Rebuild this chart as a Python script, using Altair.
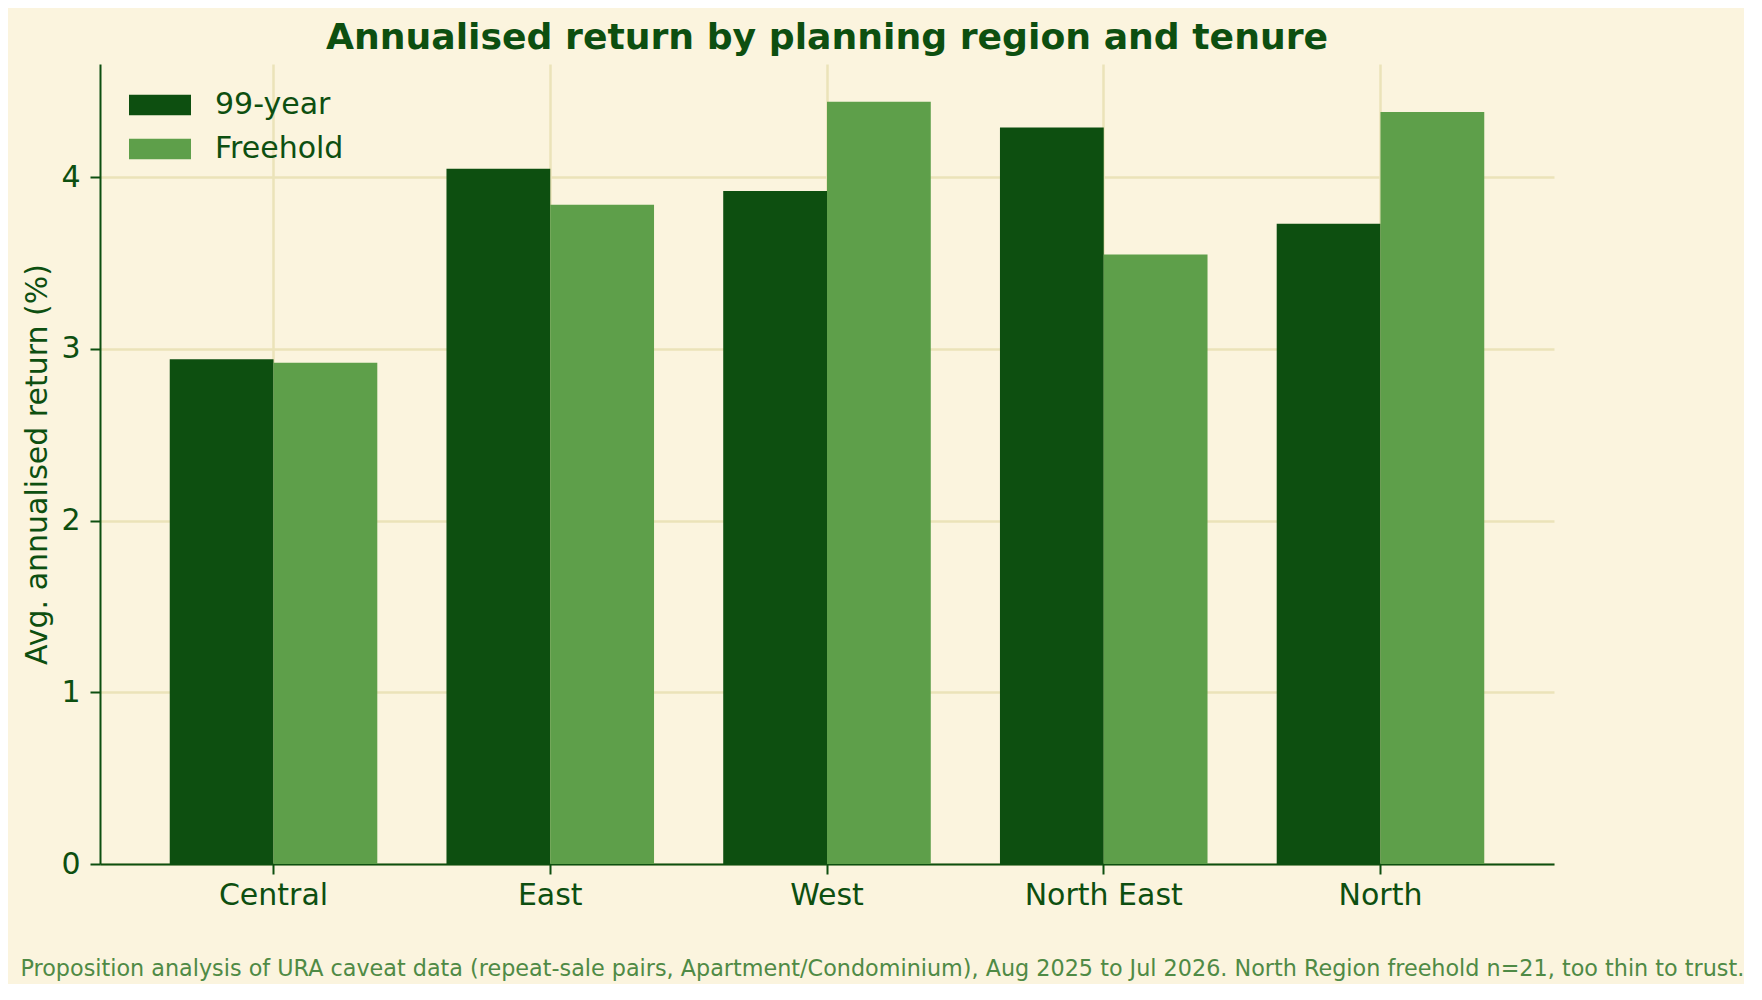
import altair as alt
import pandas as pd

regions = ["Central", "East", "West", "North East", "North"]
tenures = ["99-year", "Freehold"]
ret_99 = [2.94, 4.05, 3.92, 4.29, 3.73]
ret_fh = [2.92, 3.84, 4.44, 3.55, 4.38]
y_ticks = [0, 1, 2, 3, 4]

title = "Annualised return by planning region and tenure"
y_title = "Avg. annualised return (%)"
footer = ("Proposition analysis of URA caveat data (repeat-sale pairs, Apartment/Condominium), "
          "Aug 2025 to Jul 2026. North Region freehold n=21, too thin to trust.")

rows = []
for r, a, b in zip(regions, ret_99, ret_fh):
    rows.append({"region": r, "tenure": tenures[0], "value": a})
    rows.append({"region": r, "tenure": tenures[1], "value": b})
df = pd.DataFrame(rows)

DARK = "#0d4f10"
LIGHT = "#5e9f4a"
BG = "#fbf4de"
GRID = "#ebe3b9"
FOOT = "#4f8a45"
FONT = "DejaVu Sans"

chart = alt.Chart(df).mark_bar().encode(
    x=alt.X(
        "region:N", sort=regions,
        scale=alt.Scale(paddingInner=0.25, paddingOuter=0.252),
        axis=alt.Axis(
            title=footer, labelAngle=0, labelFontSize=30, labelColor=DARK, labelFont=FONT,
            labelPadding=6, tickSize=10, tickWidth=2, tickColor=DARK,
            domainColor=DARK, domainWidth=2, grid=True, gridColor=GRID, gridWidth=2.5,
            bandPosition=0.5,
            titleAnchor="start", titleAlign="left", titleX=-80, titleY=111,
            titleBaseline="alphabetic", titleFontWeight="normal", titleFontSize=22.3,
            titleColor=FOOT, titleFont=FONT,
        ),
    ),
    xOffset=alt.XOffset("tenure:N", sort=tenures, scale=alt.Scale(paddingInner=0, paddingOuter=0)),
    y=alt.Y(
        "value:Q",
        scale=alt.Scale(domain=[0, 4.66], nice=False, zero=True),
        axis=alt.Axis(
            title=y_title, values=y_ticks, labelFontSize=30, labelColor=DARK, labelFont=FONT,
            labelPadding=10, tickSize=10, tickWidth=2, tickColor=DARK,
            domainColor=DARK, domainWidth=2, grid=True, gridColor=GRID, gridWidth=2.5,
            titleFontSize=30, titleFontWeight="normal", titleColor=DARK, titleFont=FONT,
            titlePadding=8,
        ),
    ),
    color=alt.Color(
        "tenure:N", sort=tenures,
        scale=alt.Scale(domain=tenures, range=[DARK, LIGHT]),
        legend=alt.Legend(
            title=None, orient="none", legendX=39, legendY=20,
            symbolType="M-1.5,-0.5H1.5V0.5H-1.5Z", symbolSize=1708,
            symbolStrokeWidth=0, symbolOpacity=1,
            labelFontSize=30, labelColor=DARK, labelFont=FONT, labelOffset=34,
            rowPadding=8, padding=0,
        ),
    ),
).properties(
    width=1454, height=800,
    title=alt.TitleParams(
        text=title, fontSize=36.2, fontWeight="bold", color=DARK, font=FONT,
        anchor="middle", baseline="alphabetic", offset=16, dy=37,
    ),
    autosize=alt.AutoSizeParams(type="none"),
    padding={"left": 92, "top": 56, "right": 190, "bottom": 120},
    background=BG,
).configure_view(stroke=None)

chart.save("out.html", embed_options={"renderer": "svg", "actions": False})
